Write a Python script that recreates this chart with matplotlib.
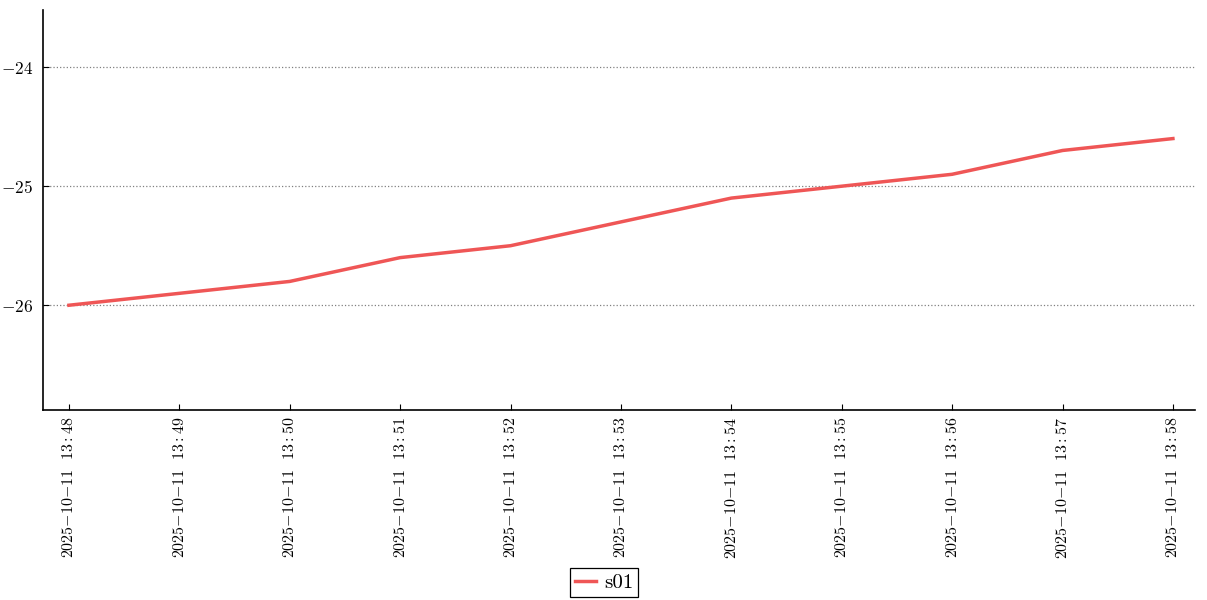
import matplotlib
matplotlib.use("Agg")
import matplotlib.pyplot as plt
from datetime import datetime, timedelta

plt.rcParams['mathtext.fontset'] = 'cm'

# data
start = datetime(2025, 10, 11, 13, 48)
times = [start + timedelta(minutes=i) for i in range(11)]
s01 = [-26.0, -25.9, -25.8, -25.6, -25.5, -25.3, -25.1, -25.0, -24.9, -24.7, -24.6]
yticks = [-26, -25, -24]

fig = plt.figure(figsize=(12.07, 6), dpi=100)
ax = fig.add_axes([43 / 1207, 1 - 410 / 600, (1195 - 43) / 1207, 400 / 600])

ax.plot(times, s01, color='#ef5656', linewidth=2.5, label='s01')

ax.set_xlim(start - timedelta(minutes=0.235), start + timedelta(minutes=10.2))
ax.set_ylim(-26.88, -23.52)
ax.set_yticks(yticks)
ax.set_yticklabels(['$%d$' % v for v in yticks], fontsize=12.5)
ax.set_xticks(times)
ax.set_xticklabels([r'$\mathtt{' + t.strftime(r'%Y{-}%m{-}%d\ \ %H:%M') + '}$' for t in times],
                   fontsize=11.5, rotation=90)
ax.tick_params(direction='in', length=4, width=0.8)
ax.tick_params(axis='y', pad=7)
ax.tick_params(axis='x', pad=5)

ax.grid(axis='y', color='gray', linestyle=':', linewidth=0.9)
ax.spines['top'].set_visible(False)
ax.spines['right'].set_visible(False)
ax.spines['left'].set_linewidth(1.2)
ax.spines['bottom'].set_linewidth(1.2)

leg = ax.legend(loc='upper center', bbox_to_anchor=(0.487, -0.395), fancybox=False,
                edgecolor='black', framealpha=1, handlelength=1.0, handletextpad=0.4,
                borderpad=0.25, borderaxespad=0,
                prop={'family': 'cmr10', 'size': 15})
leg.get_frame().set_linewidth(0.9)

fig.savefig('out.png', dpi=100)
